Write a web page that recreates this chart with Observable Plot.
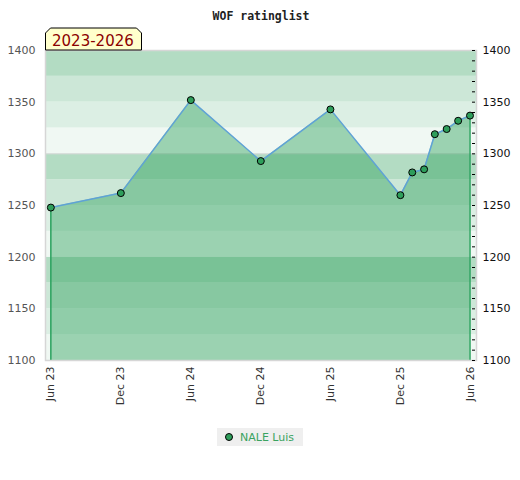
<!DOCTYPE html>
<html><head><meta charset="utf-8">
<script src="https://cdn.jsdelivr.net/npm/d3@7"></script>
<script src="https://cdn.jsdelivr.net/npm/@observablehq/plot@0.6"></script>
<style>
body{margin:0;background:#fff;font-family:"DejaVu Sans",sans-serif;}
#wrap{position:relative;width:520px;height:480px;}
#legend{position:absolute;left:217px;top:428px;width:86px;height:18px;background:#efefef;font:11px "DejaVu Sans",sans-serif;color:#3aa35f;display:flex;align-items:center;}
#legend .dot{display:inline-block;width:6px;height:6px;border-radius:50%;background:#2e9e5b;border:1px solid #000;margin:0 7px 0 8px;}
</style></head><body><div id="wrap"></div>
<script>
const title = "WOF ratinglist";
const periodLabel = "2023-2026";
const seriesName = "NALE Luis";
const dates = ["2023-06-01","2023-12-01","2024-06-01","2024-12-01","2025-06-01","2025-12-01","2026-01-01","2026-02-01","2026-03-01","2026-04-01","2026-05-01","2026-06-01"];
const ratings = [1248,1262,1352,1293,1343,1260,1282,1285,1319,1324,1332,1337];
const xTicks = ["2023-06-01","2023-12-01","2024-06-01","2024-12-01","2025-06-01","2025-12-01","2026-06-01"];
const xTickLabels = ["Jun 23","Dec 23","Jun 24","Dec 24","Jun 25","Dec 25","Jun 26"];
const yTicks = [1100,1150,1200,1250,1300,1350,1400];
const yMinorTicks = [1100,1110,1120,1130,1140,1150,1160,1170,1180,1190,1200,1210,1220,1230,1240,1250,1260,1270,1280,1290,1300,1310,1320,1330,1340,1350,1360,1370,1380,1390,1400];
const bandLows = [1100,1125,1150,1175,1200,1225,1250,1275,1300,1325,1350,1375];
const bandShades = ["#f0f8f3","#dcefe4","#cce7d7","#b3dcc3","#f0f8f3","#dcefe4","#cce7d7","#b3dcc3","#f0f8f3","#dcefe4","#cce7d7","#b3dcc3"];

const data = dates.map((d,i)=>({date:new Date(d+"T00:00:00Z"), rating:ratings[i]}));
const bands = bandLows.map((lo,i)=>({y1:lo, y2:lo+25, fill:bandShades[i]}));
const tickDates = xTicks.map(d=>new Date(d+"T00:00:00Z"));
const labelOf = new Map(tickDates.map((d,i)=>[+d, xTickLabels[i]]));
const first = data[0], last = data[data.length-1];

const chart = Plot.plot({
  width: 520, height: 420,
  marginTop: 50, marginLeft: 45, marginRight: 44, marginBottom: 60,
  style: {fontFamily: '"DejaVu Sans", sans-serif', fontSize: "11px", background: "#fff"},
  x: {type: "utc", domain: [new Date("2023-05-18T00:00:00Z"), new Date("2026-06-18T00:00:00Z")]},
  y: {domain: [1100, 1400]},
  marks: [
    Plot.rect(bands, {y1: "y1", y2: "y2", fill: d => d.fill}),
    Plot.ruleY([1300], {stroke: "#d8d8d8", strokeWidth: 1}),
    Plot.areaY(data, {x: "date", y1: 1100, y2: "rating", fill: "#2ca05a", fillOpacity: 0.43}),
    Plot.ruleX([first], {x: "date", y1: 1100, y2: "rating", stroke: "#2ca25f", strokeWidth: 1.5}),
    Plot.ruleX([last], {x: "date", y1: 1100, y2: "rating", stroke: "#2ca25f", strokeWidth: 1.5}),
    Plot.line(data, {x: "date", y: "rating", stroke: "#5fa2d6", strokeWidth: 1.5}),
    Plot.dot(data, {x: "date", y: "rating", r: 3.5, fill: "#2e9e5b", stroke: "#000", strokeWidth: 1}),
    Plot.frame({stroke: "#d6d6d6", strokeWidth: 1.5}),
    Plot.axisY(yTicks, {anchor: "left", tickSize: 0, tickPadding: 10, tickFormat: d => String(d), fill: "#555", fontSize: 11, label: null}),
    Plot.axisY(yTicks, {anchor: "right", tickSize: 0, tickPadding: 6, tickFormat: d => String(d), fill: "#111", fontSize: 11, label: null}),
    Plot.axisY(yMinorTicks, {anchor: "right", tickSize: 3, dx: -5, tickPadding: 0, tickFormat: () => null, stroke: "#000", label: null}),
    Plot.axisX(tickDates, {anchor: "bottom", tickSize: 0, tickPadding: 6, tickRotate: -90, tickFormat: d => labelOf.get(+d), fill: "#333", fontSize: 11, label: null}),
    Plot.text([title], {frameAnchor: "top", dy: -39, text: d => d, fontFamily: '"DejaVu Sans Mono", monospace', fontWeight: "bold", fontSize: 11.5, fill: "#222"})
  ]
});

const svg = d3.select(chart);
document.getElementById("wrap").appendChild(chart);

// period badge on top of the frame
const g = svg.append("g").attr("text-anchor", "start");
g.append("polygon")
  .attr("points", "45.5,50 45.5,33 50.5,28 136.5,28 141.5,33 141.5,50")
  .attr("fill", "#ffffcc").attr("stroke", "#000").attr("stroke-width", 1);
g.append("text").attr("x", 52).attr("y", 45.5).attr("text-anchor", "start")
  .attr("font-family", '"DejaVu Sans", sans-serif').attr("font-size", 15)
  .attr("fill", "#8b0000").text(periodLabel);

const leg = document.createElement("div");
leg.id = "legend";
leg.innerHTML = '<span class="dot"></span><span>' + seriesName + '</span>';
document.getElementById("wrap").appendChild(leg);
</script></body></html>
